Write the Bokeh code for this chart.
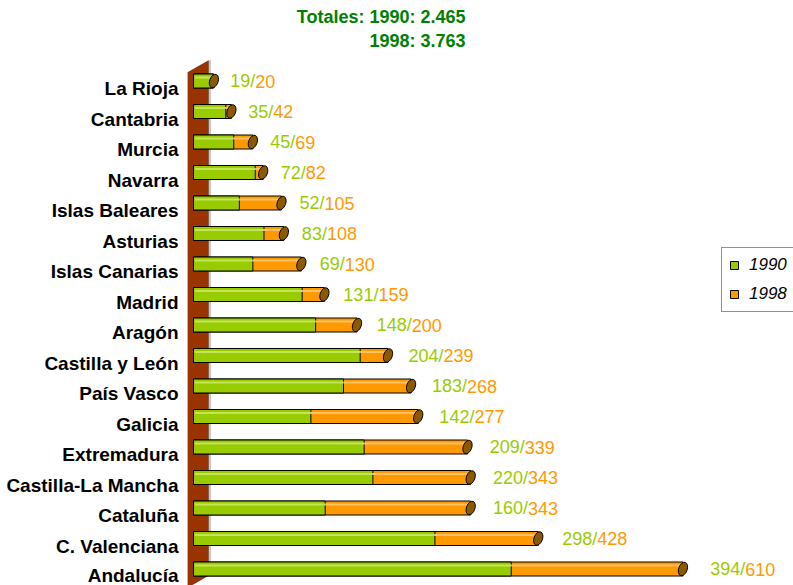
from bokeh.plotting import figure
from bokeh.models import (ColumnDataSource, Range1d, FixedTicker, Label, Legend,
                          LegendItem, PolyAnnotation)
from bokeh.core.properties import value
from bokeh.embed import file_html
from bokeh.resources import INLINE

# ---------------- data ----------------
regions = ["La Rioja", "Cantabria", "Murcia", "Navarra", "Islas Baleares", "Asturias",
           "Islas Canarias", "Madrid", "Aragón", "Castilla y León", "País Vasco", "Galicia",
           "Extremadura", "Castilla-La Mancha", "Cataluña", "C. Valenciana", "Andalucía"]
v1990 = [19, 35, 45, 72, 52, 83, 69, 131, 148, 204, 183, 142, 209, 220, 160, 298, 394]
v1998 = [20, 42, 69, 82, 105, 108, 130, 159, 200, 239, 268, 277, 339, 343, 343, 428, 610]
title_lines = ["Totales: 1990: 2.465", "1998: 3.763"]
series_names = ["1990", "1998"]

# ---------------- styling / layout constants ----------------
FONT = "Liberation Sans"
GREEN = "#99cc00"
ORANGE = "#ff9900"
W, H = 793, 585
LEFT = 187                      # px reserved for the category labels
PPU = 0.795                     # pixels per unit on value axis
ZERO_PX = 10.5                  # value 0 sits this far right of frame left
ROW_PX = 30.5                   # row spacing in px
TOP_ROW_PX = 88                 # top label centre, px from top
BAR_SHIFT = 7.5                 # bars drawn this many px above their label
n = len(regions)

frame_w = W - LEFT
x_start = -ZERO_PX / PPU
x_end = x_start + frame_w / PPU
y_end = (n - 1) + TOP_ROW_PX / ROW_PX
y_start = y_end - H / ROW_PX


def fx(px):   # page px (x) -> data x
    return x_start + (px - LEFT) / PPU


def fy(py):   # page px (y from top) -> data y
    return y_end - py / ROW_PX


rows = [n - 1 - i for i in range(n)]
bar_y = [r + BAR_SHIFT / ROW_PX for r in rows]
hi_y = [b + 3.5 / ROW_PX for b in bar_y]

fs = 18
green_txt = [f"{a}/" for a in v1990]
orange_txt = [f"{b}" for b in v1998]
green_w = [(len(t) - 1) * 0.556 * fs + 0.278 * fs for t in green_txt]
lab_off = [16 + 0.0186 * b for b in v1998]

src = ColumnDataSource(dict(
    y=bar_y, hy=hi_y, v90=v1990, v98=v1998,
    gt=green_txt, ot=orange_txt,
    gx=lab_off, ox=[o + w for o, w in zip(lab_off, green_w)],
))

p = figure(width=W, height=H, output_backend="svg", toolbar_location=None,
           x_range=Range1d(x_start, x_end), y_range=Range1d(y_start, y_end),
           x_axis_location=None, min_border_left=LEFT, min_border_right=0,
           min_border_top=0, min_border_bottom=0)
p.outline_line_color = None
p.grid.visible = False
p.background_fill_color = "white"
p.border_fill_color = "white"

# category axis
ax = p.yaxis[0]
ax.ticker = FixedTicker(ticks=rows)
ax.major_label_overrides = {r: name for r, name in zip(rows, regions)}
ax.axis_line_color = None
ax.major_tick_line_color = None
ax.minor_tick_line_color = None
ax.major_tick_out = 0
ax.major_tick_in = 0
ax.major_label_standoff = 9
ax.major_label_text_font = FONT
ax.major_label_text_font_style = "bold"
ax.major_label_text_font_size = "19px"
ax.major_label_text_color = "black"

# wall (decorative, behind the bars)
wall_xs = [fx(187), fx(208), fx(208), fx(187)]
wall_ys = [fy(72), fy(60), fy(575), fy(587)]
p.add_layout(PolyAnnotation(xs=[x + 2.5 / PPU for x in wall_xs], ys=[y + 1 / ROW_PX for y in wall_ys],
                            fill_color="#c8c8c8", fill_alpha=1, line_color=None, level="underlay"))
p.add_layout(PolyAnnotation(xs=wall_xs, ys=wall_ys, fill_color="#993300", fill_alpha=1,
                            line_color="#3a1500", line_width=1, level="underlay"))

bh = 14 / ROW_PX
bar_left = -4.5 / PPU
r98 = p.hbar(y="y", left=bar_left, right="v98", height=bh, source=src,
             fill_color=ORANGE, line_color="black", line_width=1)
r90 = p.hbar(y="y", left=bar_left, right="v90", height=bh, source=src,
             fill_color=GREEN, line_color="black", line_width=1)
# highlights
p.hbar(y="hy", left="v90", right="v98", height=2 / ROW_PX, source=src,
       fill_color="#ffc266", line_color=None)
p.hbar(y="hy", left=bar_left + 1.5 / PPU, right="v90", height=2 / ROW_PX, source=src,
       fill_color="#c4e45a", line_color=None)
# end caps
p.ellipse(x="v98", y="y", width=8.5, height=14, width_units="screen", height_units="screen",
          angle=-0.35, source=src, fill_color="#8b5a00", line_color="black", line_width=1)

# value labels
p.text(x="v98", y="y", text="gt", x_offset="gx", source=src, text_color=GREEN,
       text_font=value(FONT), text_font_size=f"{fs}px", text_baseline="middle", text_align="left")
p.text(x="v98", y="y", text="ot", x_offset="ox", source=src, text_color=ORANGE,
       text_font=value(FONT), text_font_size=f"{fs}px", text_baseline="middle", text_align="left")

# title
for txt, py in zip(title_lines, [16, 40]):
    p.add_layout(Label(x=fx(465), y=fy(py), text=txt, text_align="right", text_baseline="middle",
                       text_font=FONT, text_font_style="bold", text_font_size="18px",
                       text_color="#008000"))

legend = Legend(items=[LegendItem(label=series_names[0], renderers=[r90]),
                       LegendItem(label=series_names[1], renderers=[r98])],
                location=(534, H - 312), border_line_color="#222222", border_line_width=1,
                background_fill_color="white", background_fill_alpha=1,
                label_text_font=FONT, label_text_font_style="italic",
                label_text_color="black",
                label_text_font_size="17px", glyph_width=10, glyph_height=10,
                label_standoff=10, spacing=9, padding=7, margin=0,
                label_height=17)
p.add_layout(legend)

open("out.html", "w").write(file_html(p, INLINE))
